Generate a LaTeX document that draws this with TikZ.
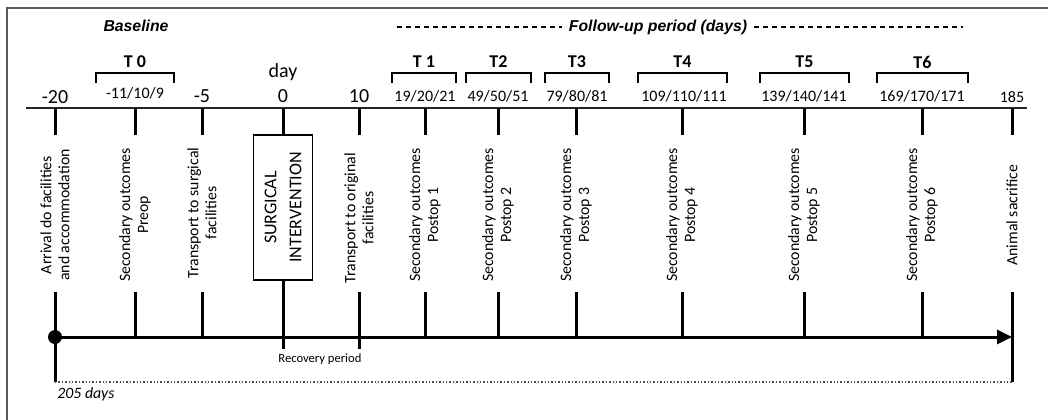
\documentclass[tikz,border=0pt]{standalone}
\usepackage{fontspec}
\setmainfont{Carlito}
\newfontfamily\arialfont{Liberation Sans}
\usetikzlibrary{arrows.meta}
\tikzset{
  tickline/.style={line width=1.5pt},
  bracket/.style={line width=1pt},
  vtext/.style={rotate=90,align=center,inner sep=0pt,font=\fontsize{7.9}{9}\selectfont},
  bignum/.style={font=\fontsize{10}{11}\selectfont},
  daynum/.style={font=\fontsize{8}{9}\selectfont},
  tlab/.style={font=\fontsize{9}{10}\selectfont\bfseries},
  headlab/.style={font=\fontsize{7.9}{9}\selectfont\arialfont\bfseries\itshape},
}
\begin{document}
\begin{tikzpicture}[x=0.5pt,y=-0.5pt]%timeline
\useasboundingbox (0,0) rectangle (1048,419);
\begin{scope}
\clip (0,0) rectangle (1048,419);
\draw [gray!70!black, line width=0.8pt] (7,8) rectangle (1080,450);
\end{scope}
% tick places
\foreach \n/\x in {a/55,b/135,c/202,d/283,e/359,f/425,g/498,h/576,i/682,j/804,k/922,l/1012}
{\coordinate (t\n) at (\x,108); \coordinate (m\n) at (\x,135);
 \coordinate (u\n) at (\x,292); \coordinate (b\n) at (\x,337);}
\coordinate (topL) at (26,108);
\coordinate (topR) at (1027,108);
\draw [black!85, line width=1pt] (topL) -- (topR);
% headers
\node[headlab] (base) at (136,26) {Baseline};
\node[headlab] (fu) at (658,27) {Follow-up period (days)};
\coordinate (fuL) at (397,27);
\coordinate (fuR) at (963,27);
\draw [line width=1.2pt, dash pattern=on 2.5pt off 2pt] (fuL) -- (fu.west) (fu.east) -- (fuR);
% brackets
\foreach \t/\xa/\xb/\lab in {0/96/174/T 0,1/392/456/T 1,2/466/531/T2,3/545/609/T3,4/638/727/T4,5/760/849/T5,6/877/968/T6}
{\draw [bracket] (\xa,83) -- (\xa,73) -- (\xb,73) -- (\xb,83);
 \node[tlab] (T\t) at ({(\xa+\xb)/2},62) {\lab};}
% day numbers
\node[bignum] (n20) at (55,97) {-20};
\node[daynum] (nT0) at (135,93) {-11/10/9};
\node[bignum] (n5) at (202,96) {-5};
\node[bignum] (nday) at (283,72) {day};
\node[bignum] (n0) at (283,96) {0};
\node[bignum] (n10) at (359,96) {10};
\node[daynum] (nT1) at (425,96) {19/20/21};
\node[daynum] (nT2) at (498,96) {49/50/51};
\node[daynum] (nT3) at (577,96) {79/80/81};
\node[daynum] (nT4) at (684,96) {109/110/111};
\node[daynum] (nT5) at (804,96) {139/140/141};
\node[daynum] (nT6) at (922,96) {169/170/171};
\node[daynum] (n185) at (1012,97) {185};
% events
\node[vtext] (la) at (55,215) {Arrival do facilities\\and accommodation};
\node[vtext] (lb) at (135,215) {Secondary outcomes\\Preop};
\node[vtext] (lc) at (202,213) {Transport to surgical\\facilities};
\node[vtext] (le) at (359,218) {Transport to original\\facilities};
\foreach \n/\x/\k in {f/425/1,g/498/2,h/576/3,i/682/4,j/804/5,k/922/6}
{\node[vtext] (l\n) at (\x,215) {Secondary outcomes\\Postop \k};}
\node[vtext] (ll) at (1012,215) {Animal sacrifice};
\node[draw, rotate=90, line width=0.6pt, minimum width=72.5pt, minimum height=29.5pt, align=center,
  font=\fontsize{9}{12.5}\selectfont] (surg) at (283,207.5) {SURGICAL\\INTERVENTION};
% ticks
\foreach \n in {a,b,c,e,f,g,h,i,j,k,l}
{\draw [tickline] (t\n) -- (m\n) (u\n) -- (b\n);}
\draw [tickline] (td) -- (surg.east) (surg.west) -- (283,349);
\draw [tickline] (be) -- (359,349);
\draw [tickline] (ba) -- (55,382) (bl) -- (1012,382);
% main axis
\draw [line width=1.5pt, -{Triangle[length=7.5pt,width=7pt]}] (ba) -- (bl);
\fill (ba) circle (7);
\draw [gray!60!black, densely dotted, line width=0.7pt] (55,382) -- (1012,382);
\node[anchor=west, inner sep=0pt, font=\fontsize{6.3}{7}\selectfont] (rec) at (278,359) {Recovery period};
\node[anchor=west, inner sep=0pt, font=\fontsize{7.9}{9}\selectfont\itshape] (days) at (57,394) {205 days};
\end{tikzpicture}
\end{document}
